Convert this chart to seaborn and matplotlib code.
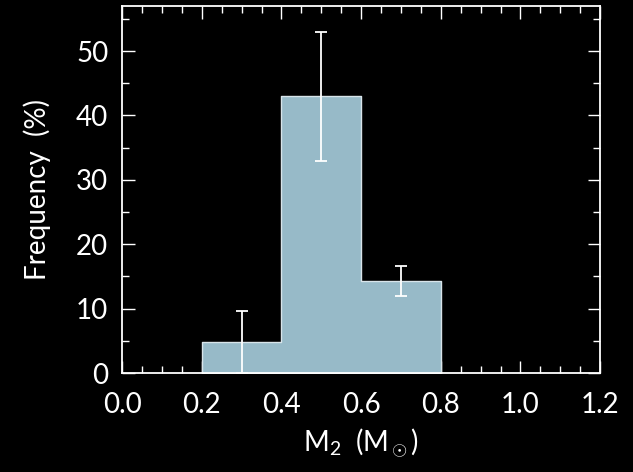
import matplotlib
matplotlib.use("Agg")
import matplotlib.pyplot as plt
import seaborn as sns
import numpy as np
import pandas as pd
from matplotlib.ticker import MultipleLocator

bin_edges = [0.2, 0.4, 0.6, 0.8]
bin_centers = [0.3, 0.5, 0.7]
frequency = [4.8, 43.0, 14.3]
freq_err = [4.8, 10.0, 2.35]
x_ticks = [0.0, 0.2, 0.4, 0.6, 0.8, 1.0, 1.2]
y_ticks = [0, 10, 20, 30, 40, 50]

sns.set_theme(style="ticks")
plt.rcParams['font.family'] = ['Lato', 'DejaVu Sans']
plt.rcParams['mathtext.fontset'] = 'custom'
plt.rcParams['mathtext.rm'] = 'Lato'
plt.rcParams['mathtext.it'] = 'Lato'

fig = plt.figure(figsize=(6.33, 4.72), dpi=100, facecolor='black')
ax = fig.add_axes([0.193, 0.2097, 0.755, 0.7775])
ax.set_facecolor('black')

df = pd.DataFrame({"m2": bin_centers, "freq": frequency})
sns.histplot(data=df, x="m2", weights="freq", bins=bin_edges, ax=ax, element="step",
             color="#97bac8", alpha=1.0, edgecolor="#d8e4ea", linewidth=1.0)
ax.errorbar(bin_centers, frequency, yerr=freq_err, fmt='none', ecolor='white',
            elinewidth=1.3, capsize=4, capthick=1.3)

ax.set_xlim(0, 1.2)
ax.set_ylim(0, 57)
ax.set_xticks(x_ticks)
ax.set_xticklabels([f"{v:.1f}" for v in x_ticks])
ax.set_yticks(y_ticks)
ax.xaxis.set_minor_locator(MultipleLocator(0.05))
ax.yaxis.set_minor_locator(MultipleLocator(5))
ax.tick_params(which='both', direction='in', top=True, right=True, colors='white',
               labelcolor='white', width=1.0)
ax.tick_params(which='major', length=9, labelsize=20, pad=10)
ax.tick_params(which='minor', length=5)
ax.tick_params(axis='x', which='major', pad=14)
for s in ax.spines.values():
    s.set_color('white')
    s.set_linewidth(1.3)

ax.set_xlabel(r"M$_2$  (M$_\odot$)", color='white', fontsize=20, labelpad=6)
ax.set_ylabel("Frequency  (%)", color='white', fontsize=20, labelpad=18)

fig.savefig("out.png", dpi=100, facecolor='black')
